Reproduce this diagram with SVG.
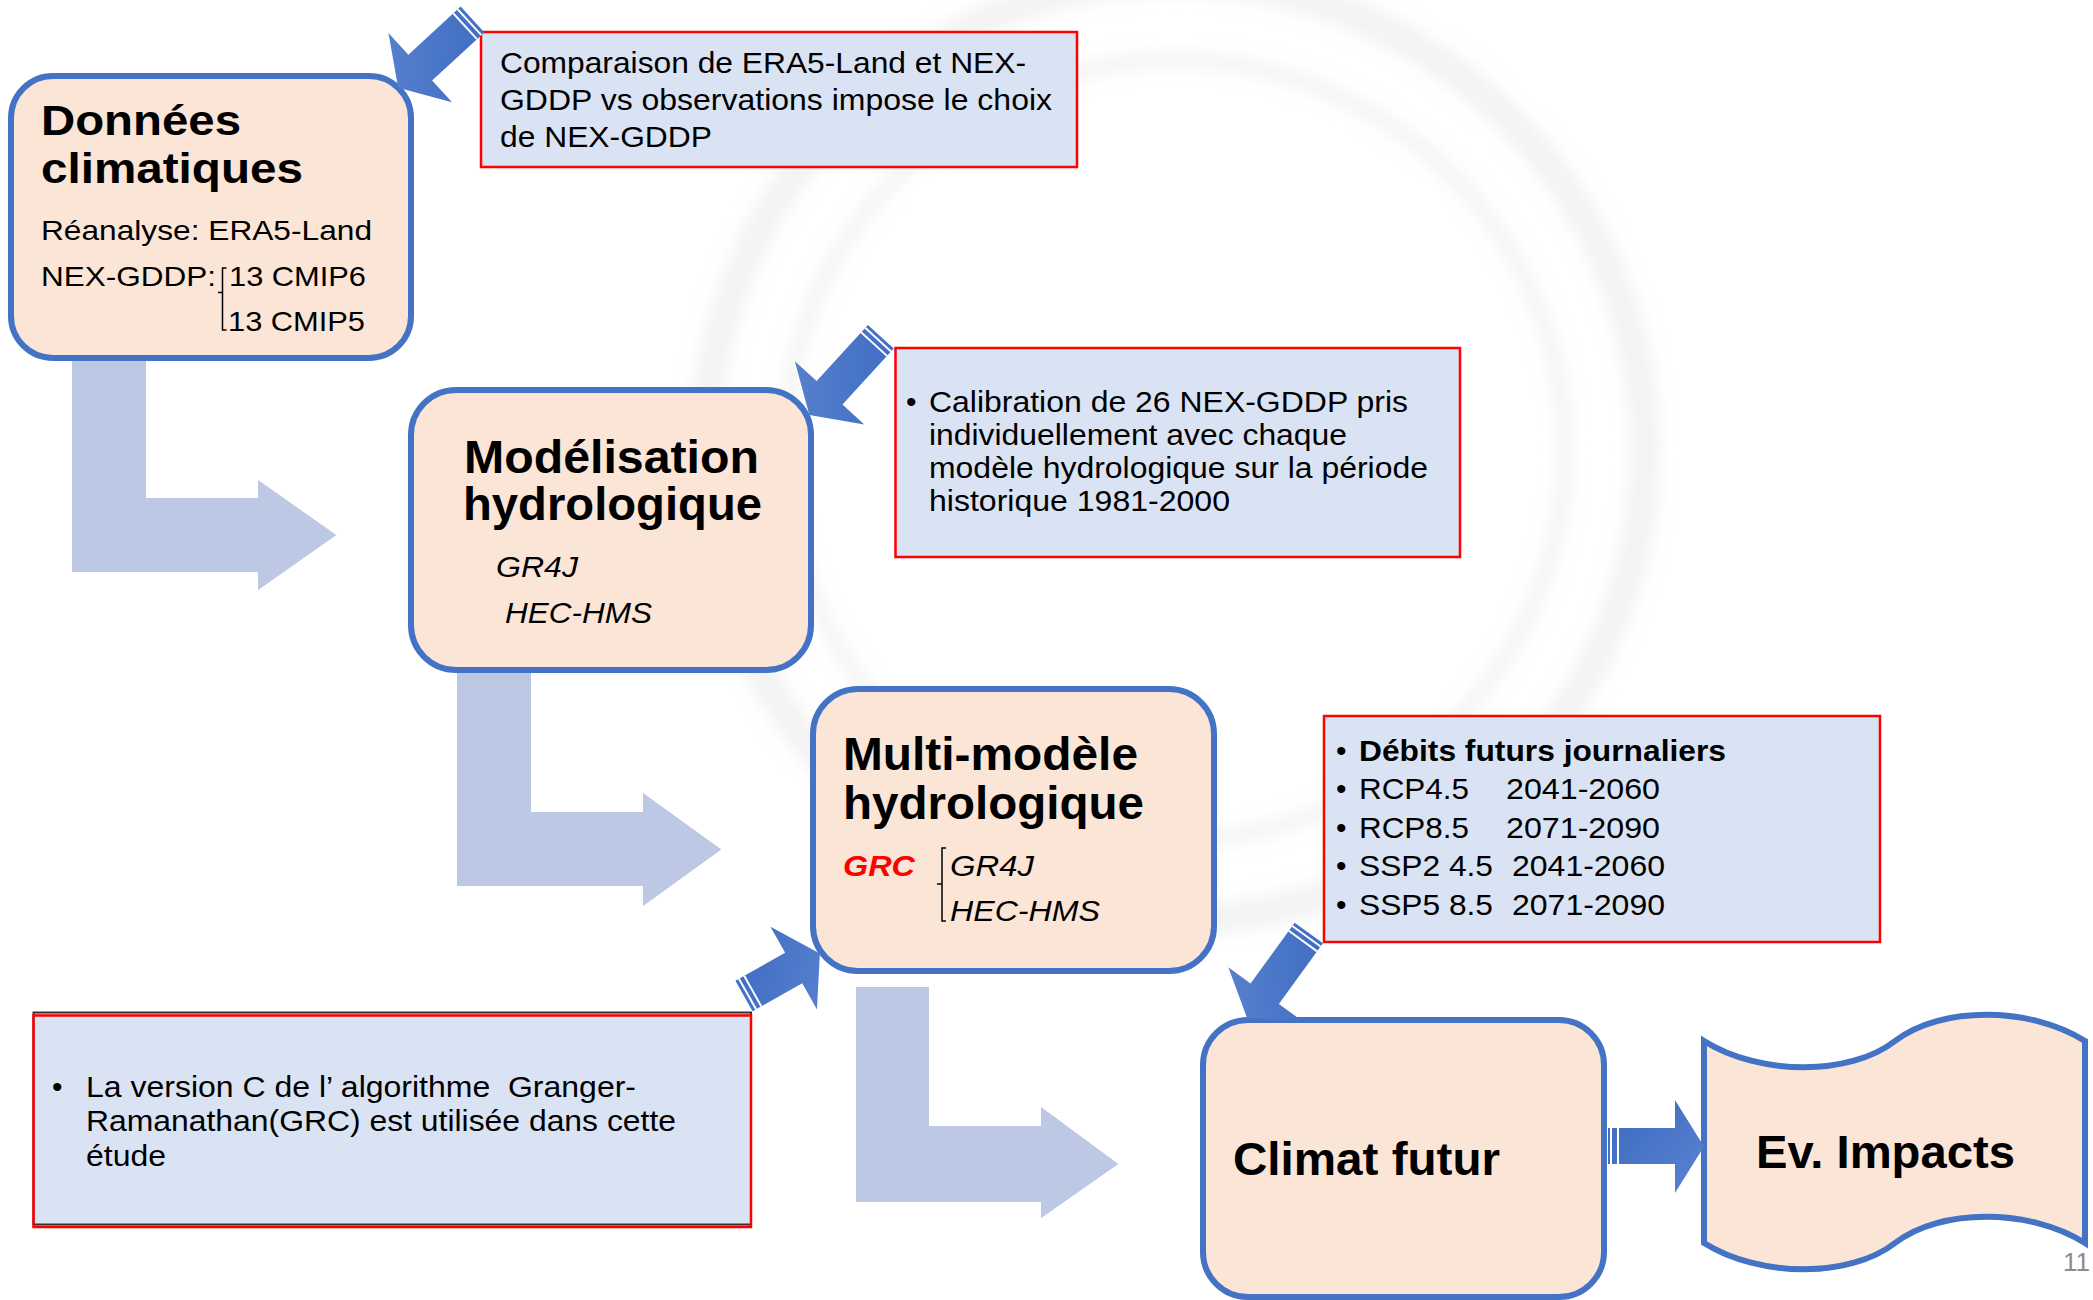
<svg xmlns="http://www.w3.org/2000/svg" width="2093" height="1300" viewBox="0 0 2093 1300">
<style>
  .t { font-family: "Liberation Sans", Arial, sans-serif; fill: #000; }
  .title { font-weight: bold; font-size: 46px; }
  .body { font-size: 30px; }
  .it { font-style: italic; }
  .node-box { fill: #FBE5D6; stroke: #4472C4; stroke-width: 6; }
  .callout { fill: #DAE3F3; stroke: #FF0000; stroke-width: 2.5; }
  .bend { fill: #BDC8E4; stroke: #FFFFFF; stroke-width: 2; }
  .barrow { fill: url(#blueGrad); }
  .stripe { stroke: #FFFFFF; stroke-width: 2; fill: none; }
  .brk { stroke: #000; stroke-width: 1.5; fill: none; }
  .wm { fill: none; stroke: #F3F3F3; }
</style>
<defs>
  <linearGradient id="blueGrad" x1="0" y1="0" x2="1" y2="1">
    <stop offset="0" stop-color="#3B69C2"/>
    <stop offset="1" stop-color="#5B84CF"/>
  </linearGradient>
  <filter id="soft" x="-10%" y="-10%" width="120%" height="120%">
    <feGaussianBlur stdDeviation="8"/>
  </filter>
</defs>

<rect x="0" y="0" width="2093" height="1300" fill="#FFFFFF"/>

<!-- faint watermark -->
<g id="watermark" filter="url(#soft)">
  <circle class="wm" cx="1175" cy="450" r="470" stroke-width="30"/>
  <circle class="wm" cx="1175" cy="450" r="390" stroke-width="14"/>
</g>

<!-- bent flow arrows -->
<g id="connectors">
  <path class="bend" d="M71,355 L147,355 L147,497 L257,497 L257,478 L338,535 L257,592 L257,573 L71,573 Z"/>
  <path class="bend" d="M456,668 L532,668 L532,811 L642,811 L642,791 L723,849.5 L642,908 L642,887 L456,887 Z"/>
  <path class="bend" d="M855,986 L930,986 L930,1125 L1040,1125 L1040,1105 L1120,1164 L1040,1220 L1040,1203 L855,1203 Z"/>
</g>

<!-- nodes -->
<g id="node-donnees">
  <rect class="node-box" x="11" y="76" width="400" height="282" rx="42" ry="42"/>
  <text class="t" x="41" y="135" font-weight="bold" font-size="43" textLength="200" lengthAdjust="spacingAndGlyphs">Données</text>
  <text class="t" x="41" y="183" font-weight="bold" font-size="43" textLength="262" lengthAdjust="spacingAndGlyphs">climatiques</text>
  <text class="t" x="41" y="240" font-size="28" textLength="331" lengthAdjust="spacingAndGlyphs">Réanalyse: ERA5-Land</text>
  <text class="t" x="41" y="286" font-size="28" textLength="175" lengthAdjust="spacingAndGlyphs">NEX-GDDP:</text>
  <path class="brk" d="M226.5,268 H222.5 V330 H226.5 M222.5,292.5 H218"/>
  <text class="t" x="229" y="286" font-size="28" textLength="137" lengthAdjust="spacingAndGlyphs">13 CMIP6</text>
  <text class="t" x="228" y="331" font-size="28" textLength="137" lengthAdjust="spacingAndGlyphs">13 CMIP5</text>
</g>

<g id="node-modelisation">
  <rect class="node-box" x="411" y="390" width="400" height="280" rx="45" ry="45"/>
  <text class="t title" x="464" y="473" textLength="295" lengthAdjust="spacingAndGlyphs">Modélisation</text>
  <text class="t title" x="463" y="520" textLength="299" lengthAdjust="spacingAndGlyphs">hydrologique</text>
  <text class="t body it" x="496" y="577" textLength="82" lengthAdjust="spacingAndGlyphs">GR4J</text>
  <text class="t body it" x="505" y="623" textLength="147" lengthAdjust="spacingAndGlyphs">HEC-HMS</text>
</g>

<g id="node-multimodele">
  <rect class="node-box" x="813" y="689" width="401" height="282" rx="45" ry="45"/>
  <text class="t title" x="843" y="770" textLength="295" lengthAdjust="spacingAndGlyphs">Multi-modèle</text>
  <text class="t title" x="843" y="819" textLength="301" lengthAdjust="spacingAndGlyphs">hydrologique</text>
  <text class="t body it" x="843" y="876" font-weight="bold" style="fill:#FF0000" textLength="72" lengthAdjust="spacingAndGlyphs">GRC</text>
  <path class="brk" d="M946,848 H942 V921 H946 M942,884 H937"/>
  <text class="t body it" x="950" y="876" textLength="84" lengthAdjust="spacingAndGlyphs">GR4J</text>
  <text class="t body it" x="950" y="921" textLength="150" lengthAdjust="spacingAndGlyphs">HEC-HMS</text>
</g>

<g id="node-climat">
  <rect class="node-box" x="1203" y="1020" width="401" height="277" rx="45" ry="45"/>
  <text class="t" x="1233" y="1175" font-weight="bold" font-size="47" textLength="267" lengthAdjust="spacingAndGlyphs">Climat futur</text>
</g>

<g id="node-impacts">
  <path class="node-box" d="M1704,1041 C1760,1076 1850,1076 1895,1041 C1940,1006 2030,1006 2085,1041 L2085,1243 C2030,1208 1940,1208 1895,1243 C1850,1278 1760,1278 1704,1243 Z"/>
  <text class="t" x="1756" y="1168" font-weight="bold" font-size="47" textLength="259" lengthAdjust="spacingAndGlyphs">Ev. Impacts</text>
</g>

<!-- callouts -->
<g id="callout-comparaison">
  <rect class="callout" x="481" y="32" width="596" height="135"/>
  <text class="t body" x="500" y="73" textLength="526" lengthAdjust="spacingAndGlyphs">Comparaison de ERA5-Land et NEX-</text>
  <text class="t body" x="500" y="110" textLength="552" lengthAdjust="spacingAndGlyphs">GDDP vs observations impose le choix</text>
  <text class="t body" x="500" y="147" textLength="212" lengthAdjust="spacingAndGlyphs">de NEX-GDDP</text>
</g>

<g id="callout-calibration">
  <rect class="callout" x="895.5" y="348" width="564.5" height="209"/>
  <text class="t body" x="906" y="412">•</text>
  <text class="t body" x="929" y="412" textLength="479" lengthAdjust="spacingAndGlyphs">Calibration de 26 NEX-GDDP pris</text>
  <text class="t body" x="929" y="445" textLength="418" lengthAdjust="spacingAndGlyphs">individuellement avec chaque</text>
  <text class="t body" x="929" y="478" textLength="499" lengthAdjust="spacingAndGlyphs">modèle hydrologique sur la période</text>
  <text class="t body" x="929" y="511" textLength="301" lengthAdjust="spacingAndGlyphs">historique 1981-2000</text>
</g>

<g id="callout-debits">
  <rect class="callout" x="1324" y="716" width="556" height="226"/>
  <text class="t body" x="1336" y="761">•</text>
  <text class="t body" x="1359" y="761" font-weight="bold" textLength="367" lengthAdjust="spacingAndGlyphs">Débits futurs journaliers</text>
  <text class="t body" x="1336" y="799">•</text>
  <text class="t body" x="1359" y="799" textLength="110" lengthAdjust="spacingAndGlyphs">RCP4.5</text>
  <text class="t body" x="1506" y="799" textLength="154" lengthAdjust="spacingAndGlyphs">2041-2060</text>
  <text class="t body" x="1336" y="838">•</text>
  <text class="t body" x="1359" y="838" textLength="110" lengthAdjust="spacingAndGlyphs">RCP8.5</text>
  <text class="t body" x="1506" y="838" textLength="154" lengthAdjust="spacingAndGlyphs">2071-2090</text>
  <text class="t body" x="1336" y="876">•</text>
  <text class="t body" x="1359" y="876" textLength="134" lengthAdjust="spacingAndGlyphs">SSP2 4.5</text>
  <text class="t body" x="1512" y="876" textLength="153" lengthAdjust="spacingAndGlyphs">2041-2060</text>
  <text class="t body" x="1336" y="915">•</text>
  <text class="t body" x="1359" y="915" textLength="134" lengthAdjust="spacingAndGlyphs">SSP5 8.5</text>
  <text class="t body" x="1512" y="915" textLength="153" lengthAdjust="spacingAndGlyphs">2071-2090</text>
</g>

<g id="callout-grc">
  <rect x="33.5" y="1013" width="717.5" height="214" fill="#DAE3F3"/>
  <rect x="33.5" y="1012.5" width="717.5" height="212" fill="none" stroke="#333333" stroke-width="2"/>
  <rect x="33.5" y="1015.5" width="717.5" height="211.5" fill="none" stroke="#FF0000" stroke-width="2.5"/>
  <text class="t body" x="52" y="1097">•</text>
  <text class="t body" x="86" y="1097" xml:space="preserve" textLength="550" lengthAdjust="spacingAndGlyphs">La version C de l’ algorithme  Granger-</text>
  <text class="t body" x="86" y="1131" textLength="590" lengthAdjust="spacingAndGlyphs">Ramanathan(GRC) est utilisée dans cette</text>
  <text class="t body" x="86" y="1166" textLength="80" lengthAdjust="spacingAndGlyphs">étude</text>
</g>

<!-- blue callout arrows -->
<g id="callout-arrows">
  <g transform="translate(472.5,19.5) rotate(137.4)">
    <path class="barrow" d="M0,-17.5 H71 V-47 L101,0 L71,47 V17.5 H0 Z"/>
    <path class="stripe" d="M4,-17.5 V17.5 M10,-17.5 V17.5"/>
  </g>
  <g transform="translate(880.8,336.7) rotate(132.4)">
    <path class="barrow" d="M0,-17.5 H76 V-47 L106,0 L76,47 V17.5 H0 Z"/>
    <path class="stripe" d="M4,-17.5 V17.5 M10,-17.5 V17.5"/>
  </g>
  <g transform="translate(744,996) rotate(-29.3)">
    <path class="barrow" d="M0,-17.5 H57 V-47.5 L87,0 L57,47.5 V17.5 H0 Z"/>
    <path class="stripe" d="M4,-17.5 V17.5 M10,-17.5 V17.5"/>
  </g>
  <g transform="translate(1308.8,933) rotate(126)">
    <path class="barrow" d="M0,-17.5 H75 V-45 L105,0 L75,45 V17.5 H0 Z"/>
    <path class="stripe" d="M4,-17.5 V17.5 M10,-17.5 V17.5"/>
  </g>
  <g>
    <path class="barrow" d="M1608,1128 L1675,1128 L1675,1100 L1704,1146.5 L1675,1193 L1675,1164 L1608,1164 Z"/>
    <path class="stripe" d="M1611,1128 V1164 M1618,1128 V1164"/>
  </g>
</g>

<text class="t" x="2063" y="1271" font-size="26" style="fill:#8C8C8C">11</text>
</svg>
